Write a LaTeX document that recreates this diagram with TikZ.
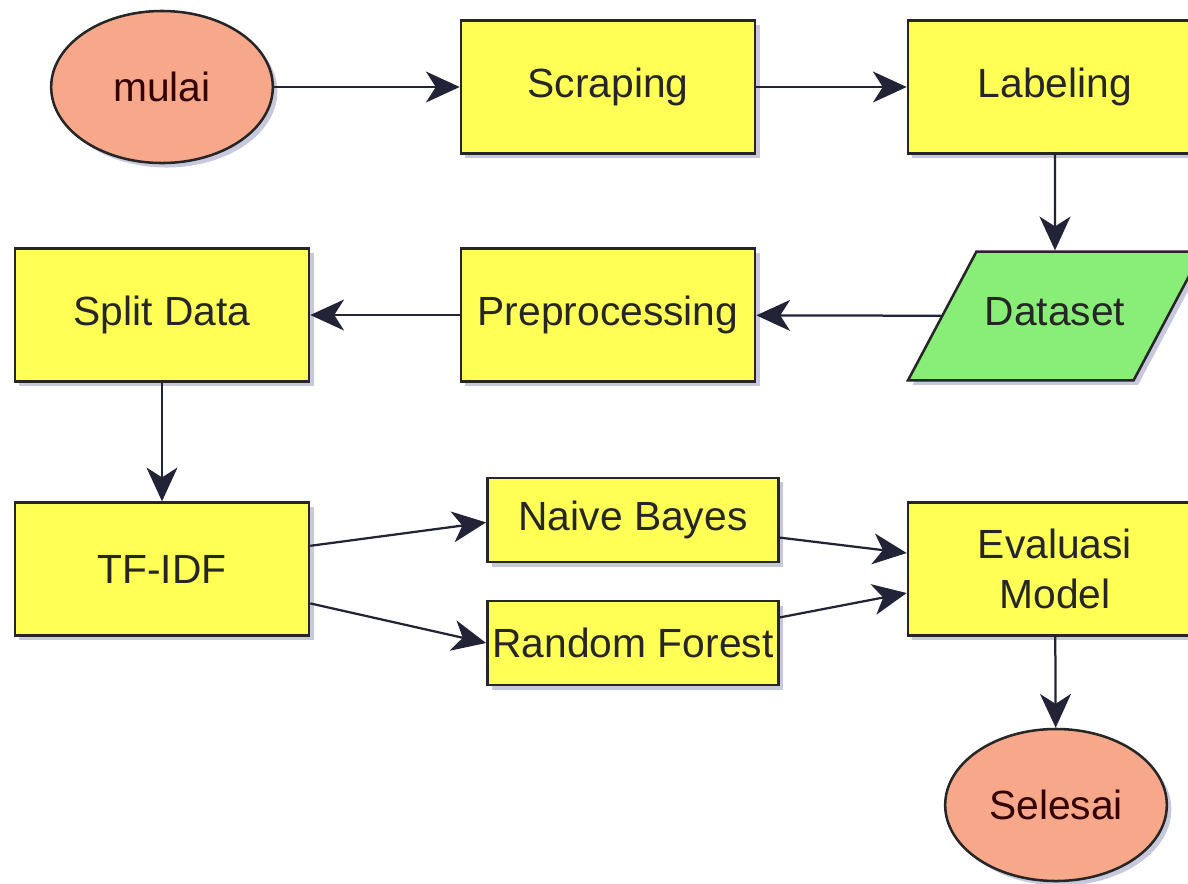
\documentclass[tikz,border=0pt]{standalone}
\usepackage{fontspec}
\setmainfont{Liberation Sans}
\usetikzlibrary{arrows.meta,shapes.geometric,shadows}

\definecolor{procyellow}{RGB}{255,255,85}
\definecolor{termsalmon}{RGB}{248,168,138}
\definecolor{datagreen}{RGB}{136,238,120}
\definecolor{linknavy}{RGB}{35,35,55}

\begin{document}
\begin{tikzpicture}[x=0.0125cm, y=-0.0125cm,
    font=\fontsize{14.5}{17.5}\selectfont,
    shade/.style={drop shadow={shadow xshift=1.6pt, shadow yshift=-1.6pt, fill=blue!25!gray, opacity=0.35}},
    proc/.style={draw=black!85, line width=0.9pt, fill=procyellow, text=black!85, align=center,
        minimum width=3.675cm, minimum height=1.66cm, inner sep=0pt, shade},
    algo/.style={proc, minimum width=3.64cm, minimum height=1.05cm},
    term/.style={ellipse, draw=black!85, line width=0.9pt, fill=termsalmon, text=black!80!red,
        minimum width=2.77cm, minimum height=1.9cm, inner sep=0pt, shade},
    data/.style={trapezium, trapezium left angle=62, trapezium right angle=118, trapezium stretches body=true,
        draw=black!85, line width=0.9pt, fill=datagreen, text=black!85,
        text height=10pt, text depth=3pt, inner xsep=0pt, inner ysep=16.4pt,
        minimum width=3.675cm, shade},
    link/.style={draw=linknavy, line width=0.8pt, -{Stealth[length=12pt, width=11pt, inset=3.5pt]}}]

    \clip (0, 0) rectangle (1188, 883);

    % top row
    \node[term] (mulai) at (162, 87) {mulai};
    \node[proc] (scrap) at (608, 87) {Scraping};
    \node[proc] (label) at (1055, 87) {Labeling};

    % middle row
    \node[data] (dataset) at (1055, 316) {Dataset};
    \node[proc] (prepro) at (608, 315) {Preprocessing};
    \node[proc] (split) at (162, 315) {Split Data};

    % bottom rows
    \node[proc] (tfidf) at (162, 569) {TF-IDF};
    \node[algo] (nb) at (633, 520) {Naive Bayes};
    \node[algo] (rf) at (633, 643) {Random Forest};
    \node[proc] (eval) at (1055, 569) {Evaluasi\\Model};
    \node[term] (selesai) at (1056, 805) {Selesai};

    \draw[link] (mulai) -- (scrap);
    \draw[link] (scrap) -- (label);
    \draw[link] (label) -- (dataset);
    \draw[link] (dataset) -- (prepro);
    \draw[link] (prepro) -- (split);
    \draw[link] (split) -- (tfidf);

    \draw[link] ([yshift=0.29cm]tfidf.east) -- ([yshift=-0.03cm]nb.west);
    \draw[link] ([yshift=-0.43cm]tfidf.east) -- (rf.west);
    \draw[link] ([yshift=-0.22cm]nb.east) -- ([yshift=0.2cm]eval.west);
    \draw[link] ([yshift=0.32cm]rf.east) -- ([yshift=-0.3cm]eval.west);
    \draw[link] (eval) -- (selesai);
\end{tikzpicture}
\end{document}
